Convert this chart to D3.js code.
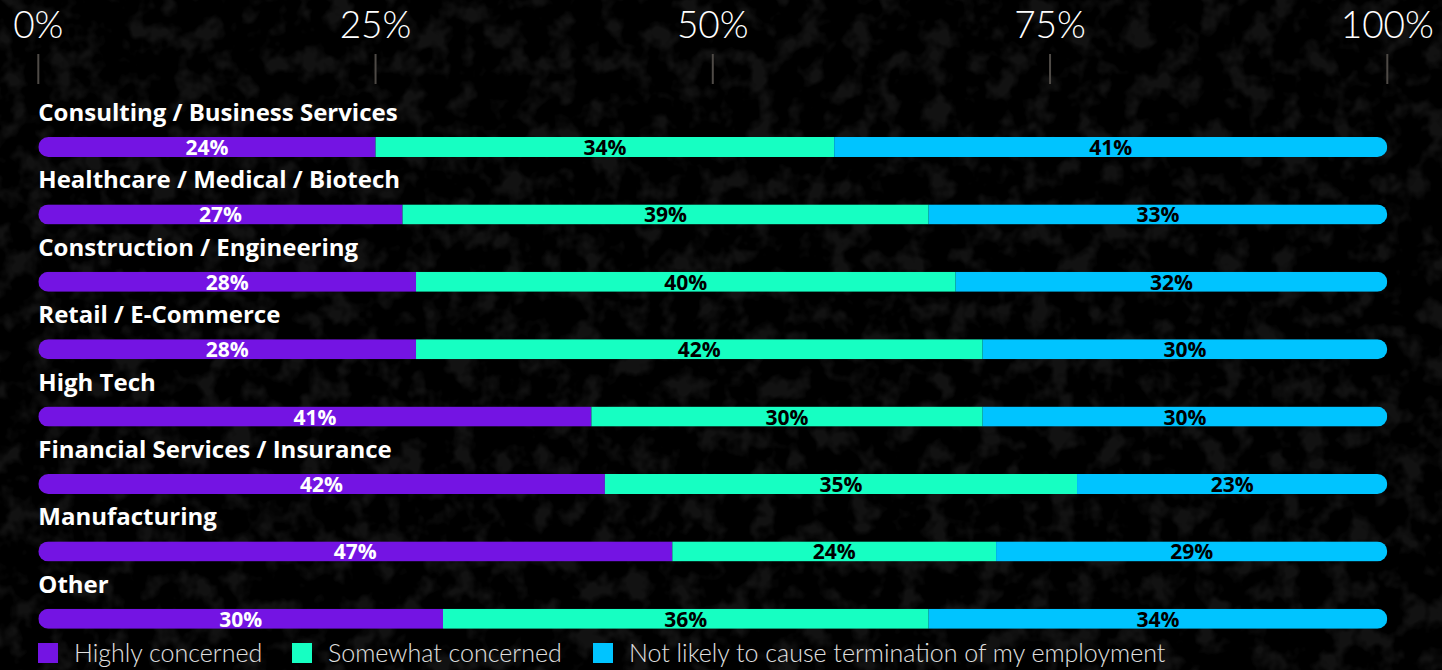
<!DOCTYPE html>
<head>
  <meta charset="utf-8">
  <script src="https://d3js.org/d3.v7.min.js"></script>
  <style>
    body { margin:0; background:#000; overflow:hidden; }
    text { font-family: Lato, "Open Sans", sans-serif; }
    .bold { font-family: "Open Sans", Lato, sans-serif; }
  </style>
</head>
<body>
<script>

  // data
  var categories = ["Consulting / Business Services", "Healthcare / Medical / Biotech",
    "Construction / Engineering", "Retail / E-Commerce", "High Tech",
    "Financial Services / Insurance", "Manufacturing", "Other"];

  // segment widths as measured from the bars
  var highly    = [25, 27, 28, 28, 41, 42, 47, 30];
  var somewhat  = [34, 39, 40, 42, 29, 35, 24, 36];
  var notLikely = [41, 34, 32, 30, 30, 23, 29, 34];

  // percentages printed on the bars
  var highlyLabels    = [24, 27, 28, 28, 41, 42, 47, 30];
  var somewhatLabels  = [34, 39, 40, 42, 30, 35, 24, 36];
  var notLikelyLabels = [41, 33, 32, 30, 30, 23, 29, 34];

  var seriesNames = ["Highly concerned", "Somewhat concerned", "Not likely to cause termination of my employment"];
  var tickValues = [0, 25, 50, 75, 100];

  var color = ["#7414e3", "#16ffc2", "#00c4ff"];
  var labelColor = ["#fff", "#000", "#000"];

  var W = 1442, H = 670;

  var svg = d3.select("body").append("svg")
    .attr("width", W)
    .attr("height", H);

  // background texture, kept faint
  var defs = svg.append("defs");
  var f = defs.append("filter").attr("id", "grain")
    .attr("color-interpolation-filters", "sRGB")
    .attr("x", 0).attr("y", 0).attr("width", "100%").attr("height", "100%");
  f.append("feTurbulence")
    .attr("type", "fractalNoise")
    .attr("baseFrequency", 0.04)
    .attr("numOctaves", 3)
    .attr("seed", 7);
  f.append("feColorMatrix")
    .attr("type", "matrix")
    .attr("values", "0 0 0 0 0.09  0 0 0 0 0.09  0 0 0 0 0.09  0 0 0 4 -1.9");

  svg.append("rect").attr("width", W).attr("height", H).attr("fill", "#000");
  svg.append("rect").attr("width", W).attr("height", H).attr("filter", "url(#grain)").attr("opacity", 0.8);

  var x = d3.scaleLinear().domain([0, 100]).range([38.3, 1387.3]);

  var y = d3.scaleBand()
    .domain(categories)
    .range([137, 137 + 67.4 * 8])
    .paddingInner(0);

  var barH = 20;

  // top axis
  var axis = svg.append("g").attr("class", "axis");
  axis.selectAll("line").data(tickValues).enter().append("line")
    .attr("x1", function(d) { return x(d); })
    .attr("x2", function(d) { return x(d); })
    .attr("y1", 54).attr("y2", 84)
    .attr("stroke", "#4e4a46")
    .attr("stroke-width", 2);
  axis.selectAll("text").data(tickValues).enter().append("text")
    .attr("x", function(d) { return x(d); })
    .attr("y", 38)
    .attr("text-anchor", "middle")
    .attr("fill", "#fff")
    .attr("font-size", 37)
    .attr("font-weight", 300)
    .text(function(d) { return d + "%"; });

  // rows
  var rows = categories.map(function(c, i) {
    var vals = [highly[i], somewhat[i], notLikely[i]];
    var labs = [highlyLabels[i], somewhatLabels[i], notLikelyLabels[i]];
    var start = 0;
    var segs = vals.map(function(v, k) {
      var s = { x0: start, x1: start + v, label: labs[k], k: k, name: c };
      start += v;
      return s;
    });
    return { name: c, i: i, segs: segs };
  });

  rows.forEach(function(r) {
    defs.append("clipPath").attr("id", "clip" + r.i)
      .append("rect")
      .attr("x", x(0))
      .attr("y", y(r.name))
      .attr("width", x(100) - x(0))
      .attr("height", barH)
      .attr("rx", barH / 2);
  });

  var row = svg.selectAll(".row").data(rows).enter()
    .append("g").attr("class", "row");

  row.append("text")
    .attr("class", "bold")
    .attr("x", x(0))
    .attr("y", function(d) { return y(d.name) - 16; })
    .attr("fill", "#fff")
    .attr("font-size", 24)
    .attr("font-weight", 700)
    .text(function(d) { return d.name; });

  var bar = row.append("g")
    .attr("clip-path", function(d) { return "url(#clip" + d.i + ")"; });

  bar.selectAll("rect").data(function(d) { return d.segs; }).enter().append("rect")
    .attr("x", function(d) { return x(d.x0); })
    .attr("y", function(d) { return y(d.name); })
    .attr("width", function(d) { return x(d.x1) - x(d.x0); })
    .attr("height", barH)
    .attr("fill", function(d) { return color[d.k]; });

  row.selectAll(".val").data(function(d) { return d.segs; }).enter()
    .append("text")
    .attr("class", "val bold")
    .attr("x", function(d) { return (x(d.x0) + x(d.x1)) / 2; })
    .attr("y", function(d) { return y(d.name) + 18; })
    .attr("text-anchor", "middle")
    .attr("fill", function(d) { return labelColor[d.k]; })
    .attr("font-size", 21)
    .attr("font-weight", 700)
    .text(function(d) { return d.label + "%"; });

  // legend
  var legendX = [38, 292, 593];
  var legend = svg.selectAll(".legend").data(seriesNames).enter()
    .append("g").attr("class", "legend");
  legend.append("rect")
    .attr("x", function(d, i) { return legendX[i]; })
    .attr("y", 643)
    .attr("width", 20)
    .attr("height", 20)
    .attr("fill", function(d, i) { return color[i]; });
  legend.append("text")
    .attr("x", function(d, i) { return legendX[i] + 36; })
    .attr("y", 662)
    .attr("fill", "#e0e0e0")
    .attr("font-size", 25)
    .attr("font-weight", 300)
    .text(function(d) { return d; });

</script>
</body>
